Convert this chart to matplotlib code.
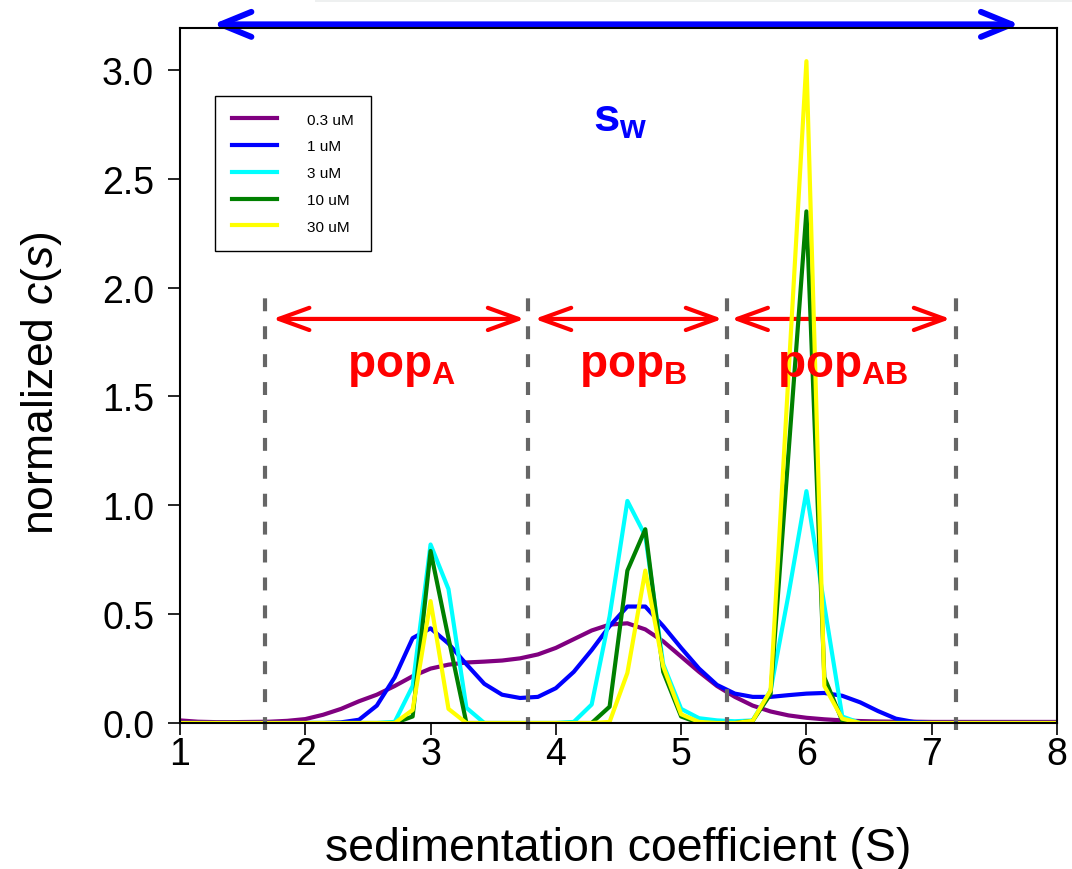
import numpy as np
import matplotlib
matplotlib.use('Agg')
import matplotlib.pyplot as plt
from matplotlib.patches import FancyArrowPatch, Rectangle

plt.rcParams['font.family'] = ['Liberation Sans', 'DejaVu Sans']
plt.rcParams['mathtext.fontset'] = 'custom'
plt.rcParams['mathtext.rm'] = 'Liberation Sans'
plt.rcParams['mathtext.it'] = 'Liberation Sans:italic'
plt.rcParams['mathtext.bf'] = 'Liberation Sans:bold'

# sedimentation coefficient grid (S)
s = [1.000, 1.143, 1.286, 1.429, 1.571, 1.714, 1.857, 2.000, 2.143, 2.286,
     2.429, 2.571, 2.714, 2.857, 3.000, 3.143, 3.286, 3.429, 3.571, 3.714,
     3.857, 4.000, 4.143, 4.286, 4.429, 4.571, 4.714, 4.857, 5.000, 5.143,
     5.286, 5.429, 5.571, 5.714, 5.857, 6.000, 6.143, 6.286, 6.429, 6.571,
     6.714, 6.857, 7.000, 7.143, 7.286, 7.429, 7.571, 7.714, 7.857, 8.000]

c_03uM = [0.012, 0.006, 0.004, 0.004, 0.005, 0.006, 0.010, 0.018, 0.038, 0.065,
          0.100, 0.130, 0.170, 0.215, 0.250, 0.268, 0.278, 0.282, 0.287, 0.297,
          0.315, 0.345, 0.385, 0.425, 0.452, 0.458, 0.430, 0.375, 0.305, 0.235,
          0.170, 0.120, 0.080, 0.053, 0.035, 0.024, 0.017, 0.012, 0.009, 0.007,
          0.006, 0.006, 0.005, 0.005, 0.005, 0.005, 0.005, 0.005, 0.005, 0.005]

c_1uM = [0.0, 0.0, 0.0, 0.0, 0.0, 0.0, 0.0, 0.0, 0.0, 0.003,
         0.015, 0.080, 0.210, 0.390, 0.435, 0.365, 0.270, 0.180, 0.130, 0.115,
         0.120, 0.160, 0.235, 0.335, 0.445, 0.535, 0.535, 0.445, 0.345, 0.250,
         0.175, 0.135, 0.120, 0.120, 0.128, 0.135, 0.138, 0.125, 0.095, 0.055,
         0.020, 0.005, 0.0, 0.0, 0.0, 0.0, 0.0, 0.0, 0.0, 0.0]

c_3uM = [0.0, 0.0, 0.0, 0.0, 0.0, 0.0, 0.0, 0.0, 0.0, 0.0,
         0.0, 0.0, 0.005, 0.170, 0.820, 0.615, 0.070, 0.0, 0.0, 0.0,
         0.0, 0.0, 0.005, 0.085, 0.490, 1.020, 0.860, 0.270, 0.065, 0.022,
         0.012, 0.008, 0.012, 0.150, 0.590, 1.065, 0.540, 0.030, 0.0, 0.0,
         0.0, 0.0, 0.0, 0.0, 0.0, 0.0, 0.0, 0.0, 0.0, 0.0]

c_10uM = [0.0, 0.0, 0.0, 0.0, 0.0, 0.0, 0.0, 0.0, 0.0, 0.0,
          0.0, 0.0, 0.0, 0.030, 0.790, 0.390, 0.0, 0.0, 0.0, 0.0,
          0.0, 0.0, 0.0, 0.0, 0.075, 0.700, 0.890, 0.235, 0.030, 0.0,
          0.0, 0.0, 0.010, 0.133, 1.240, 2.350, 0.210, 0.010, 0.0, 0.0,
          0.0, 0.0, 0.0, 0.0, 0.0, 0.0, 0.0, 0.0, 0.0, 0.0]

c_30uM = [0.0, 0.0, 0.0, 0.0, 0.0, 0.0, 0.0, 0.0, 0.0, 0.0,
          0.0, 0.0, 0.0, 0.060, 0.560, 0.065, 0.0, 0.0, 0.0, 0.0,
          0.0, 0.0, 0.0, 0.0, 0.005, 0.230, 0.700, 0.260, 0.040, 0.005,
          0.0, 0.0, 0.010, 0.150, 1.600, 3.040, 0.170, 0.020, 0.0, 0.0,
          0.0, 0.0, 0.0, 0.0, 0.0, 0.0, 0.0, 0.0, 0.0, 0.0]

series = [c_03uM, c_1uM, c_3uM, c_10uM, c_30uM]
labels = ['0.3 uM', '1 uM', '3 uM', '10 uM', '30 uM']
colors = ['#800080', '#0000ff', '#00ffff', '#008000', '#ffff00']

# population windows
bounds = [1.675, 3.78, 5.365, 7.19]
pop_spans = [(1.74, 3.75), (3.83, 5.33), (5.40, 7.15)]
pop_names = ['A', 'B', 'AB']
pop_x = [2.77, 4.615, 6.29]

fig = plt.figure(figsize=(10.72, 8.70), dpi=100)
fig.add_artist(Rectangle((315 / 1072, 1 - 3 / 870), 1, 3 / 870,
                         transform=fig.transFigure, color='#eef0f0', lw=0))
ax = fig.add_axes([0.1679, 0.1678, 0.8181, 0.7983])

for c, lab, col in zip(series, labels, colors):
    ax.plot(s, c, color=col, lw=3, label=lab)

for b in bounds:
    ax.plot([b, b], [-0.03, 2.0], color='#666666', lw=3,
            dashes=(3.1, 3.6), clip_on=False)

for (x0, x1), name, xc in zip(pop_spans, pop_names, pop_x):
    ax.add_patch(FancyArrowPatch((x0, 1.856), (x1, 1.856),
                                 arrowstyle='<->,head_length=22,head_width=8',
                                 mutation_scale=1, color='#ff0000', lw=3,
                                 shrinkA=0, shrinkB=0))
    ax.text(xc, 1.595, r'$\mathbf{pop}_\mathbf{%s}$' % name, color='#ff0000',
            fontsize=33, ha='center', va='baseline')

ax.add_patch(FancyArrowPatch((1.263, 3.209), (7.70, 3.209),
                             arrowstyle='<->,head_length=22,head_width=9',
                             mutation_scale=1, color='#0000ff', lw=4.3,
                             shrinkA=0, shrinkB=0, clip_on=False))
ax.text(4.51, 2.72, r'$\mathbf{s}_\mathbf{w}$', color='#0000ff',
        fontsize=34, ha='center', va='baseline')

ax.set_xlim(1, 8)
ax.set_ylim(0, 3.19)
ax.set_xticks(range(1, 9))
ax.set_yticks([0, 0.5, 1.0, 1.5, 2.0, 2.5, 3.0])
ax.set_yticklabels(['0.0', '0.5', '1.0', '1.5', '2.0', '2.5', '3.0'])
ax.tick_params(direction='out', length=8.6, width=1.2, labelsize=27)
ax.tick_params(axis='x', pad=1)
ax.tick_params(axis='y', pad=10)
for sp in ax.spines.values():
    sp.set_linewidth(1.5)

ax.set_xlabel('sedimentation coefficient (S)', fontsize=33.5)
ax.set_ylabel('normalized $c$($s$)', fontsize=32)
ax.xaxis.set_label_coords(0.5, -0.149)
ax.yaxis.set_label_coords(-0.132, 0.49)

leg = ax.legend(loc='upper left', bbox_to_anchor=(0.04, 0.903),
                borderaxespad=0, fontsize=11, fancybox=False,
                edgecolor='black', framealpha=1, handlelength=2.94,
                handletextpad=2.0, labelspacing=0.835, borderpad=1.1)
leg.get_frame().set_linewidth(1.0)

plt.savefig('out.png', dpi=100)
